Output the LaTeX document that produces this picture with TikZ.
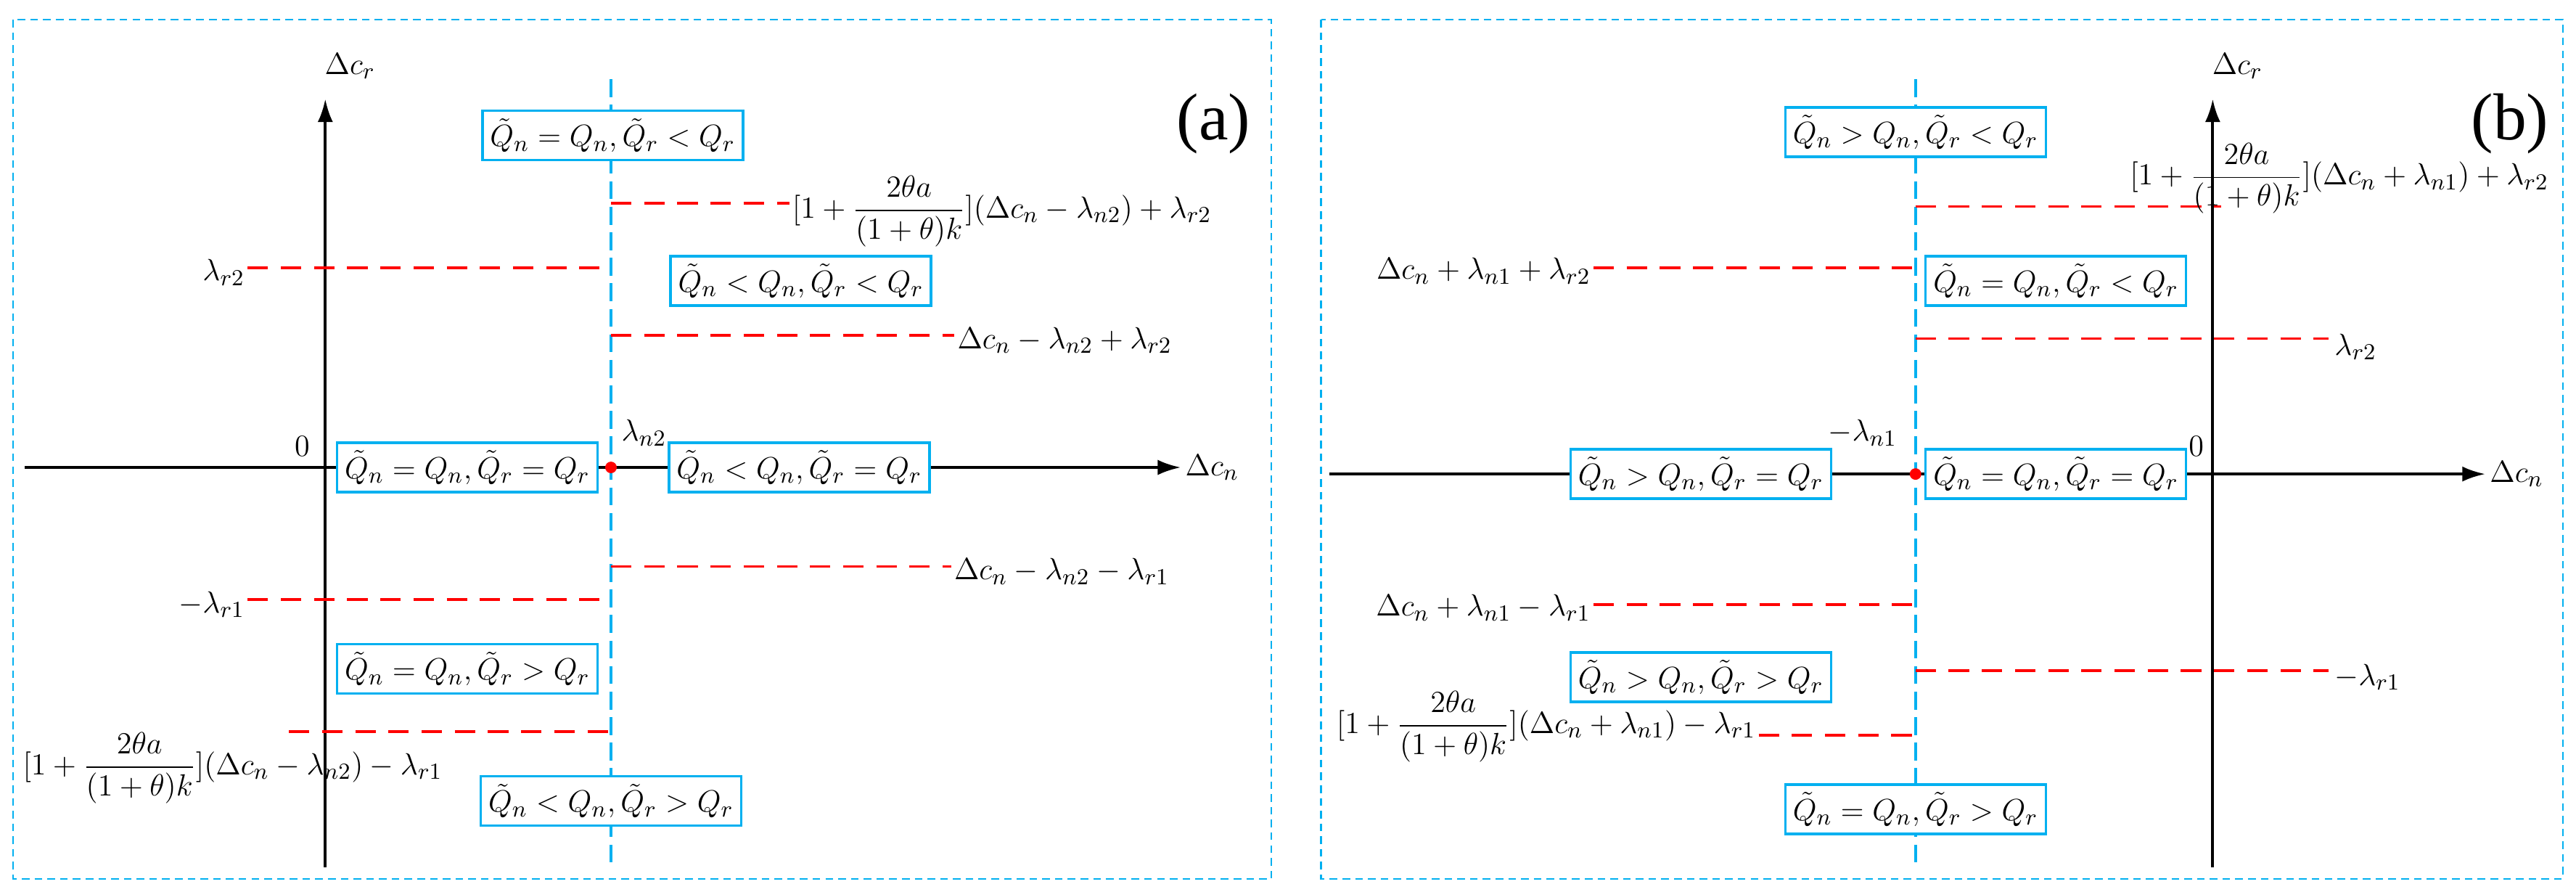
\documentclass[tikz,border=0pt]{standalone}
\usepackage{fontspec}
\setmainfont{Liberation Serif}
\usetikzlibrary{arrows.meta}
\definecolor{cy}{RGB}{0,176,240}
\begin{document}
\begin{tikzpicture}[x=0.022756cm,y=-0.022756cm,
  font=\rmfamily\fontsize{12.5}{14}\selectfont,
  frame/.style={draw=cy,densely dashed,line width=0.6pt},
  ax/.style={line width=1.1pt,-{Latex[length=9pt,width=6pt]}},
  vl/.style={draw=cy,line width=1.1pt,dash pattern=on 7pt off 3pt},
  rl/.style={draw=red,line width=1.1pt,dash pattern=on 8pt off 5pt},
  bx/.style={draw=cy,line width=1pt,fill=white,inner sep=3pt},
  lab/.style={inner sep=1pt},
  big/.style={font=\rmfamily\fontsize{26}{30}\selectfont}]
\useasboundingbox (0,0) rectangle (1560,540);
\newcommand{\fr}{\displaystyle[1+\frac{2\theta a}{(1+\theta)k}]}
% ---------- (a)
\draw[frame] (8,12) rectangle (770,532);
\node[big] (la) at (735,75) {(a)};
\coordinate (ayb) at (197,525); \coordinate (ayt) at (197,60);
\coordinate (axl) at (15,283); \coordinate (axr) at (715,283);
\draw[ax] (ayb) -- (ayt);
\draw[ax] (axl) -- (axr);
\node[lab] (ayl) at (212,40) {$\Delta c_r$};
\node[lab,anchor=west] (axlab) at (716,283) {$\Delta c_n$};
\node[lab] (a0) at (183,270) {$0$};
\coordinate (avt) at (370,48); \coordinate (avb) at (370,525);
\draw[vl] (avt) -- (avb);
\coordinate (a1s) at (370,123); \coordinate (a1e) at (478,123);
\draw[rl] (a1s) -- (a1e);
\node[lab,anchor=west] (a1l) at (478,128) {$\fr(\Delta c_n-\lambda_{n2})+\lambda_{r2}$};
\node[lab,anchor=east] (a2l) at (150,165) {$\lambda_{r2}$};
\coordinate (a2e) at (370,162);
\draw[rl] (a2l.east |- a2e) -- (a2e);
\coordinate (a3s) at (370,203); \coordinate (a3e) at (578,203);
\draw[rl] (a3s) -- (a3e);
\node[lab,anchor=west] (a3l) at (578,206) {$\Delta c_n-\lambda_{n2}+\lambda_{r2}$};
\coordinate (a4s) at (370,343); \coordinate (a4e) at (576,343);
\draw[rl] (a4s) -- (a4e);
\node[lab,anchor=west] (a4l) at (576,346) {$\Delta c_n-\lambda_{n2}-\lambda_{r1}$};
\node[lab,anchor=east] (a5l) at (150,366) {$-\lambda_{r1}$};
\coordinate (a5e) at (370,363);
\draw[rl] (a5l.east |- a5e) -- (a5e);
\coordinate (a6s) at (175,443); \coordinate (a6e) at (370,443);
\draw[rl] (a6s) -- (a6e);
\node[lab,anchor=west] (a6l) at (12,465) {$\fr(\Delta c_n-\lambda_{n2})-\lambda_{r1}$};
\node[bx] (ab1) at (371,82) {$\tilde Q_n=Q_n,\tilde Q_r<Q_r$};
\node[bx] (ab2) at (485,170) {$\tilde Q_n<Q_n,\tilde Q_r<Q_r$};
\node[bx] (ab3) at (283,283) {$\tilde Q_n=Q_n,\tilde Q_r=Q_r$};
\node[bx] (ab4) at (484,283) {$\tilde Q_n<Q_n,\tilde Q_r=Q_r$};
\node[bx] (ab5) at (283,405) {$\tilde Q_n=Q_n,\tilde Q_r>Q_r$};
\node[bx] (ab6) at (370,485) {$\tilde Q_n<Q_n,\tilde Q_r>Q_r$};
\fill[red] (370,283) circle (3.5);
\node[lab] (aln) at (390,262) {$\lambda_{n2}$};
% ---------- (b)
\draw[frame] (800,12) rectangle (1552,532);
\node[big] (lb) at (1520,75) {(b)};
\coordinate (byb) at (1340,525); \coordinate (byt) at (1340,60);
\coordinate (bxl) at (805,287); \coordinate (bxr) at (1505,287);
\draw[ax] (byb) -- (byt);
\draw[ax] (bxl) -- (bxr);
\node[lab] (byl) at (1355,40) {$\Delta c_r$};
\node[lab,anchor=west] (bxlab) at (1506,287) {$\Delta c_n$};
\node[lab] (b0) at (1330,270) {$0$};
\coordinate (bvt) at (1160,48); \coordinate (bvb) at (1160,525);
\draw[vl] (bvt) -- (bvb);
\coordinate (b1s) at (1160,125); \coordinate (b1e) at (1345,125);
\draw[rl] (b1s) -- (b1e);
\node[lab,anchor=west] (b1l) at (1288,108) {$\fr(\Delta c_n+\lambda_{n1})+\lambda_{r2}$};
\coordinate (b2s) at (965,162); \coordinate (b2e) at (1160,162);
\draw[rl] (b2s) -- (b2e);
\node[lab,anchor=east] (b2l) at (965,164) {$\Delta c_n+\lambda_{n1}+\lambda_{r2}$};
\coordinate (b3s) at (1160,205); \coordinate (b3e) at (1410,205);
\draw[rl] (b3s) -- (b3e);
\node[lab,anchor=west] (b3l) at (1412,210) {$\lambda_{r2}$};
\coordinate (b4s) at (965,366); \coordinate (b4e) at (1160,366);
\draw[rl] (b4s) -- (b4e);
\node[lab,anchor=east] (b4l) at (965,368) {$\Delta c_n+\lambda_{n1}-\lambda_{r1}$};
\coordinate (b5s) at (1160,406); \coordinate (b5e) at (1410,406);
\draw[rl] (b5s) -- (b5e);
\node[lab,anchor=west] (b5l) at (1412,410) {$-\lambda_{r1}$};
\coordinate (b6s) at (1065,445); \coordinate (b6e) at (1160,445);
\draw[rl] (b6s) -- (b6e);
\node[lab,anchor=east] (b6l) at (1065,440) {$\fr(\Delta c_n+\lambda_{n1})-\lambda_{r1}$};
\node[bx] (bb1) at (1160,80) {$\tilde Q_n>Q_n,\tilde Q_r<Q_r$};
\node[bx] (bb2) at (1245,170) {$\tilde Q_n=Q_n,\tilde Q_r<Q_r$};
\node[bx] (bb3) at (1030,287) {$\tilde Q_n>Q_n,\tilde Q_r=Q_r$};
\node[bx] (bb4) at (1245,287) {$\tilde Q_n=Q_n,\tilde Q_r=Q_r$};
\node[bx] (bb5) at (1030,410) {$\tilde Q_n>Q_n,\tilde Q_r>Q_r$};
\node[bx] (bb6) at (1160,490) {$\tilde Q_n=Q_n,\tilde Q_r>Q_r$};
\fill[red] (1160,287) circle (3.5);
\node[lab] (bln) at (1128,262) {$-\lambda_{n1}$};
\end{tikzpicture}
\end{document}
